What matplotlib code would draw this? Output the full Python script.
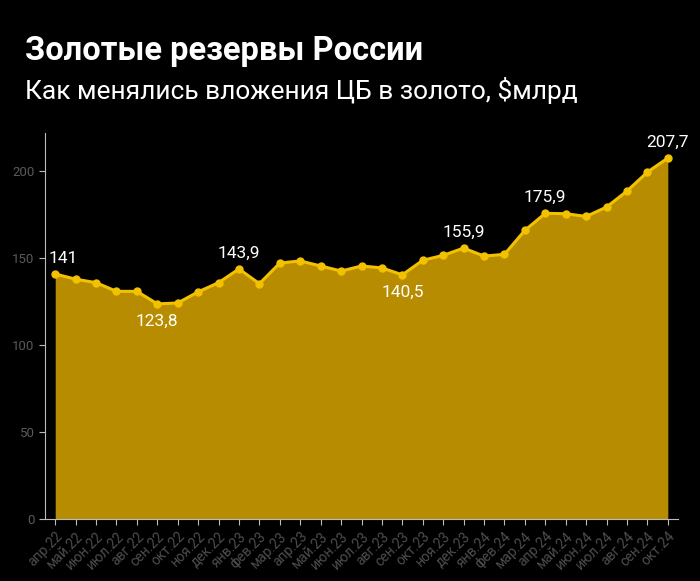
import matplotlib
matplotlib.use('Agg')
import matplotlib.pyplot as plt

# data
months = ['апр.22', 'май.22', 'июн.22', 'июл.22', 'авг.22', 'сен.22', 'окт.22', 'ноя.22',
          'дек.22', 'янв.23', 'фев.23', 'мар.23', 'апр.23', 'май.23', 'июн.23', 'июл.23',
          'авг.23', 'сен.23', 'окт.23', 'ноя.23', 'дек.23', 'янв.24', 'фев.24', 'мар.24',
          'апр.24', 'май.24', 'июн.24', 'июл.24', 'авг.24', 'сен.24', 'окт.24']
values = [141, 138, 136, 131, 131, 123.8, 124.3, 130.7, 136, 143.9, 135.4, 147.3, 148.5,
          145.6, 142.7, 145.6, 144.5, 140.5, 148.9, 151.7, 155.9, 151.3, 152.3, 166.1,
          175.9, 175.7, 174.1, 179.5, 188.7, 199.6, 207.7]
labeled = {0: 'up', 5: 'down', 9: 'up', 17: 'down', 20: 'up', 24: 'up', 30: 'up'}
yticks = [0, 50, 100, 150, 200]

plt.rcParams['font.family'] = ['Roboto', 'DejaVu Sans']

fill_color = '#b88c00'
line_color = '#f2c200'

fig = plt.figure(figsize=(7, 5.81), dpi=100, facecolor='black')
ax = fig.add_axes([0.0643, 0.1067, 0.9043, 0.664])
ax.set_facecolor('black')

x = list(range(len(values)))
ax.fill_between(x, values, 0, color=fill_color, lw=0)
ax.plot(x, values, color=line_color, lw=2.2, marker='o', ms=5)

for i, pos in labeled.items():
    v = values[i]
    txt = f'{v:g}'.replace('.', ',')
    dx = 6 if i == 0 else 0
    if pos == 'up':
        ax.annotate(txt, (i, v), xytext=(dx, 6), textcoords='offset points',
                    ha='center', va='bottom', color='white', fontsize=12.5)
    else:
        ax.annotate(txt, (i, v), xytext=(dx, -7), textcoords='offset points',
                    ha='center', va='top', color='white', fontsize=12.5)

ax.set_xlim(-0.5, 30.5)
ax.set_ylim(0, 222)
ax.set_xticks(x)
ax.set_xticklabels(months, rotation=45, ha='right', rotation_mode='anchor', fontsize=10)
ax.set_yticks(yticks)
ax.set_yticklabels([str(t) for t in yticks], fontsize=9.5)
ax.tick_params(colors='#bbbbbb', length=4, width=0.8)
for t in ax.get_xticklabels():
    t.set_color('#4d4d4d')
for t in ax.get_yticklabels():
    t.set_color('#5a5a5a')

for s in ['top', 'right']:
    ax.spines[s].set_visible(False)
for s in ['left', 'bottom']:
    ax.spines[s].set_color('#bbbbbb')
    ax.spines[s].set_linewidth(0.8)

fig.text(25 / 700, 1 - 60 / 581, 'Золотые резервы России', color='white',
         fontsize=23.5, fontweight='bold', ha='left', va='baseline')
fig.text(25 / 700, 1 - 99 / 581, 'Как менялись вложения ЦБ в золото, $млрд', color='white',
         fontsize=19, ha='left', va='baseline')

fig.savefig('out.png', dpi=100, facecolor='black')
